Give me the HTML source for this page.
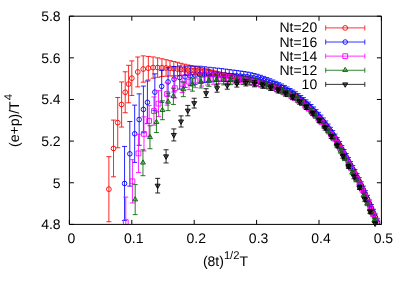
<!DOCTYPE html>
<html><head><meta charset="utf-8"><title>chart</title>
<style>
html,body{margin:0;padding:0;background:#fff;}
body{width:407px;height:284px;overflow:hidden;font-family:"Liberation Sans",sans-serif;}
svg{display:block;}
.t{filter:grayscale(1);}
.t text{font-family:"Liberation Sans",sans-serif;font-size:14px;text-rendering:geometricPrecision;}
.t tspan.s{font-size:11.2px;}
</style></head><body>
<svg width="407" height="284" viewBox="0 0 407 284">
<rect width="407" height="284" fill="#fff"/>
<g stroke-linecap="butt" stroke-linejoin="miter">
<path d="M108.87 156.65V221.71M106.37 156.65h5M106.37 221.71h5M113.52 120.09V176.81M111.02 120.09h5M111.02 176.81h5M117.73 97.49V147.77M115.23 97.49h5M115.23 147.77h5M121.61 81.91V127.05M119.11 81.91h5M119.11 127.05h5M125.21 71.78V112.74M122.71 71.78h5M122.71 112.74h5M128.6 65.31V102.8M126.1 65.31h5M126.1 102.8h5M131.8 60.91V95.47M129.3 60.91h5M129.3 95.47h5M137.76 56.99V86.88M135.26 56.99h5M135.26 86.88h5M143.23 55.87V82.2M140.73 55.87h5M140.73 82.2h5M148.33 56.44V79.97M145.83 56.44h5M145.83 79.97h5M153.12 56.95V78.22M150.62 56.95h5M150.62 78.22h5M157.65 57.88V77.29M155.15 57.88h5M155.15 77.29h5M161.95 58.77V76.61M159.45 58.77h5M159.45 76.61h5M166.07 59.7V76.2M163.57 59.7h5M163.57 76.2h5M170.02 60.65V76.01M167.52 60.65h5M167.52 76.01h5M173.82 61.52V75.88M171.32 61.52h5M171.32 75.88h5M177.48 62.32V75.81M174.98 62.32h5M174.98 75.81h5M181.02 63.32V75.55M178.52 63.32h5M178.52 75.55h5M184.46 64.2V75.35M181.96 64.2h5M181.96 75.35h5M187.8 64.96V75.18M185.3 64.96h5M185.3 75.18h5M191.04 65.62V75.03M188.54 65.62h5M188.54 75.03h5M194.2 66.22V74.92M191.7 66.22h5M191.7 74.92h5M197.28 66.82V74.89M194.78 66.82h5M194.78 74.89h5M200.29 67.45V74.96M197.79 67.45h5M197.79 74.96h5M203.23 68.11V75.12M200.73 68.11h5M200.73 75.12h5M206.11 68.78V75.35M203.61 68.78h5M203.61 75.35h5M208.93 69.49V75.65M206.43 69.49h5M206.43 75.65h5M211.69 70.23V76.04M209.19 70.23h5M209.19 76.04h5M214.4 70.92V76.4M211.9 70.92h5M211.9 76.4h5M217.07 71.54V76.71M214.57 71.54h5M214.57 76.71h5M219.68 72.11V77.01M217.18 72.11h5M217.18 77.01h5M222.25 72.65V77.29M219.75 72.65h5M219.75 77.29h5M224.77 73.14V77.56M222.27 73.14h5M222.27 77.56h5M227.26 73.6V77.8M224.76 73.6h5M224.76 77.8h5M229.71 74.04V78.05M227.21 74.04h5M227.21 78.05h5M232.12 74.48V78.3M229.62 74.48h5M229.62 78.3h5M234.49 74.9V78.56M231.99 74.9h5M231.99 78.56h5M236.84 75.31V78.81M234.34 75.31h5M234.34 78.81h5M239.15 75.72V79.07M236.65 75.72h5M236.65 79.07h5M241.42 76.13V79.34M238.92 76.13h5M238.92 79.34h5M243.67 76.56V79.65M241.17 76.56h5M241.17 79.65h5M245.89 77.01V79.98M243.39 77.01h5M243.39 79.98h5M248.09 77.51V80.37M245.59 77.51h5M245.59 80.37h5M250.25 78.04V80.79M247.75 78.04h5M247.75 80.79h5M252.39 78.59V81.24M249.89 78.59h5M249.89 81.24h5M254.51 79.15V81.71M252.01 79.15h5M252.01 81.71h5M256.6 79.7V82.17M254.1 79.7h5M254.1 82.17h5M258.67 80.24V82.63M256.17 80.24h5M256.17 82.63h5M260.71 80.8V83.1M258.21 80.8h5M258.21 83.1h5M262.74 81.38V83.61M260.24 81.38h5M260.24 83.61h5M264.74 82.01V84.17M262.24 82.01h5M262.24 84.17h5M266.73 82.69V84.78M264.23 82.69h5M264.23 84.78h5M268.69 83.39V85.41M266.19 83.39h5M266.19 85.41h5M270.63 84.09V86.06M268.13 84.09h5M268.13 86.06h5M272.56 84.82V86.73M270.06 84.82h5M270.06 86.73h5M274.47 85.57V87.42M271.97 85.57h5M271.97 87.42h5M276.36 86.33V88.13M273.86 86.33h5M273.86 88.13h5M278.23 87.11V88.86M275.73 87.11h5M275.73 88.86h5M280.09 87.92V89.62M277.59 87.92h5M277.59 89.62h5M281.93 88.76V90.41M279.43 88.76h5M279.43 90.41h5M283.75 89.65V91.26M281.25 89.65h5M281.25 91.26h5M285.56 90.59V92.15M283.06 90.59h5M283.06 92.15h5M287.35 91.53V93.06M284.85 91.53h5M284.85 93.06h5M289.13 92.47V93.95M286.63 92.47h5M286.63 93.95h5M290.9 93.4V94.85M288.4 93.4h5M288.4 94.85h5M292.65 94.36V95.77M290.15 94.36h5M290.15 95.77h5M294.39 95.39V96.77M291.89 95.39h5M291.89 96.77h5M296.11 96.5V97.84M293.61 96.5h5M293.61 97.84h5M297.82 97.67V98.99M295.32 97.67h5M295.32 98.99h5M299.52 98.89V100.18M297.02 98.89h5M297.02 100.18h5M301.21 100.14V101.39M298.71 100.14h5M298.71 101.39h5M302.88 101.42V102.65M300.38 101.42h5M300.38 102.65h5M304.54 102.76V103.96M302.04 102.76h5M302.04 103.96h5M306.19 104.13V105.31M303.69 104.13h5M303.69 105.31h5M307.83 105.56V106.71M305.33 105.56h5M305.33 106.71h5M309.46 107.04V108.17M306.96 107.04h5M306.96 108.17h5M311.07 108.57V109.67M308.57 108.57h5M308.57 109.67h5M312.68 110.13V111.21M310.18 110.13h5M310.18 111.21h5M314.28 111.74V112.8M311.78 111.74h5M311.78 112.8h5M315.86 113.4V114.44M313.36 113.4h5M313.36 114.44h5M317.44 115.1V116.12M314.94 115.1h5M314.94 116.12h5M319 116.83V117.83M316.5 116.83h5M316.5 117.83h5M320.56 118.59V119.56M318.06 118.59h5M318.06 119.56h5M322.1 120.38V121.34M319.6 120.38h5M319.6 121.34h5M323.64 122.21V123.15M321.14 122.21h5M321.14 123.15h5M325.16 124.09V125.01M322.66 124.09h5M322.66 125.01h5M326.68 126.03V126.93M324.18 126.03h5M324.18 126.93h5M328.19 128.02V128.91M325.69 128.02h5M325.69 128.91h5M329.69 130.06V130.93M327.19 130.06h5M327.19 130.93h5M331.18 132.15V133M328.68 132.15h5M328.68 133h5M332.67 134.27V135.11M330.17 134.27h5M330.17 135.11h5M334.14 136.44V137.26M331.64 136.44h5M331.64 137.26h5M335.61 138.66V139.47M333.11 138.66h5M333.11 139.47h5M337.07 140.95V141.74M334.57 140.95h5M334.57 141.74h5M338.52 143.33V144.11M336.02 143.33h5M336.02 144.11h5M339.96 145.83V146.61M337.46 145.83h5M337.46 146.61h5M341.4 148.42V149.17M338.9 148.42h5M338.9 149.17h5M342.82 151.02V151.76M340.32 151.02h5M340.32 151.76h5M344.24 153.59V154.33M341.74 153.59h5M341.74 154.33h5M345.66 156.16V156.88M343.16 156.16h5M343.16 156.88h5M347.06 158.73V159.44M344.56 158.73h5M344.56 159.44h5M348.46 161.31V162.01M345.96 161.31h5M345.96 162.01h5M349.85 163.88V164.57M347.35 163.88h5M347.35 164.57h5M351.24 166.44V167.12M348.74 166.44h5M348.74 167.12h5M352.62 168.98V169.65M350.12 168.98h5M350.12 169.65h5M353.99 171.53V172.18M351.49 171.53h5M351.49 172.18h5M355.35 174.09V174.74M352.85 174.09h5M352.85 174.74h5M356.71 176.7V177.34M354.21 176.7h5M354.21 177.34h5M358.06 179.32V179.95M355.56 179.32h5M355.56 179.95h5M359.41 181.97V182.59M356.91 181.97h5M356.91 182.59h5M360.75 184.66V185.27M358.25 184.66h5M358.25 185.27h5M362.08 187.4V188M359.58 187.4h5M359.58 188h5M363.41 190.23V190.82M360.91 190.23h5M360.91 190.82h5M364.73 193.15V193.73M362.23 193.15h5M362.23 193.73h5M366.05 196.13V196.7M363.55 196.13h5M363.55 196.7h5M367.36 199.13V199.7M364.86 199.13h5M364.86 199.7h5M368.66 202.13V202.69M366.16 202.13h5M366.16 202.69h5M369.96 205.11V205.66M367.46 205.11h5M367.46 205.66h5M371.25 208.08V208.63M368.75 208.08h5M368.75 208.63h5M372.54 211.06V211.6M370.04 211.06h5M370.04 211.6h5M373.82 214.06V214.59M371.32 214.06h5M371.32 214.59h5M375.1 217.1V217.62M372.6 217.1h5M372.6 217.62h5M376.37 220.17V220.69M373.87 220.17h5M373.87 220.69h5" fill="none" stroke="#ff0000" stroke-width="0.85"/>
<path d="M106.47 189.18a2.4 2.4 0 1 0 4.8 0a2.4 2.4 0 1 0 -4.8 0zM111.12 148.45a2.4 2.4 0 1 0 4.8 0a2.4 2.4 0 1 0 -4.8 0zM115.33 122.63a2.4 2.4 0 1 0 4.8 0a2.4 2.4 0 1 0 -4.8 0zM119.21 104.48a2.4 2.4 0 1 0 4.8 0a2.4 2.4 0 1 0 -4.8 0zM122.81 92.26a2.4 2.4 0 1 0 4.8 0a2.4 2.4 0 1 0 -4.8 0zM126.2 84.06a2.4 2.4 0 1 0 4.8 0a2.4 2.4 0 1 0 -4.8 0zM129.4 78.19a2.4 2.4 0 1 0 4.8 0a2.4 2.4 0 1 0 -4.8 0zM135.36 71.93a2.4 2.4 0 1 0 4.8 0a2.4 2.4 0 1 0 -4.8 0zM140.83 69.04a2.4 2.4 0 1 0 4.8 0a2.4 2.4 0 1 0 -4.8 0zM145.93 68.21a2.4 2.4 0 1 0 4.8 0a2.4 2.4 0 1 0 -4.8 0zM150.72 67.58a2.4 2.4 0 1 0 4.8 0a2.4 2.4 0 1 0 -4.8 0zM155.25 67.58a2.4 2.4 0 1 0 4.8 0a2.4 2.4 0 1 0 -4.8 0zM159.55 67.69a2.4 2.4 0 1 0 4.8 0a2.4 2.4 0 1 0 -4.8 0zM163.67 67.95a2.4 2.4 0 1 0 4.8 0a2.4 2.4 0 1 0 -4.8 0zM167.62 68.33a2.4 2.4 0 1 0 4.8 0a2.4 2.4 0 1 0 -4.8 0zM171.42 68.7a2.4 2.4 0 1 0 4.8 0a2.4 2.4 0 1 0 -4.8 0zM175.08 69.07a2.4 2.4 0 1 0 4.8 0a2.4 2.4 0 1 0 -4.8 0zM178.62 69.44a2.4 2.4 0 1 0 4.8 0a2.4 2.4 0 1 0 -4.8 0zM182.06 69.78a2.4 2.4 0 1 0 4.8 0a2.4 2.4 0 1 0 -4.8 0zM185.4 70.07a2.4 2.4 0 1 0 4.8 0a2.4 2.4 0 1 0 -4.8 0zM188.64 70.32a2.4 2.4 0 1 0 4.8 0a2.4 2.4 0 1 0 -4.8 0zM191.8 70.57a2.4 2.4 0 1 0 4.8 0a2.4 2.4 0 1 0 -4.8 0zM194.88 70.86a2.4 2.4 0 1 0 4.8 0a2.4 2.4 0 1 0 -4.8 0zM197.89 71.2a2.4 2.4 0 1 0 4.8 0a2.4 2.4 0 1 0 -4.8 0zM200.83 71.62a2.4 2.4 0 1 0 4.8 0a2.4 2.4 0 1 0 -4.8 0zM203.71 72.07a2.4 2.4 0 1 0 4.8 0a2.4 2.4 0 1 0 -4.8 0zM206.53 72.57a2.4 2.4 0 1 0 4.8 0a2.4 2.4 0 1 0 -4.8 0zM209.29 73.13a2.4 2.4 0 1 0 4.8 0a2.4 2.4 0 1 0 -4.8 0zM212 73.66a2.4 2.4 0 1 0 4.8 0a2.4 2.4 0 1 0 -4.8 0zM214.67 74.12a2.4 2.4 0 1 0 4.8 0a2.4 2.4 0 1 0 -4.8 0zM217.28 74.56a2.4 2.4 0 1 0 4.8 0a2.4 2.4 0 1 0 -4.8 0zM219.85 74.97a2.4 2.4 0 1 0 4.8 0a2.4 2.4 0 1 0 -4.8 0zM222.37 75.35a2.4 2.4 0 1 0 4.8 0a2.4 2.4 0 1 0 -4.8 0zM224.86 75.7a2.4 2.4 0 1 0 4.8 0a2.4 2.4 0 1 0 -4.8 0zM227.31 76.04a2.4 2.4 0 1 0 4.8 0a2.4 2.4 0 1 0 -4.8 0zM229.72 76.39a2.4 2.4 0 1 0 4.8 0a2.4 2.4 0 1 0 -4.8 0zM232.09 76.73a2.4 2.4 0 1 0 4.8 0a2.4 2.4 0 1 0 -4.8 0zM234.44 77.06a2.4 2.4 0 1 0 4.8 0a2.4 2.4 0 1 0 -4.8 0zM236.75 77.39a2.4 2.4 0 1 0 4.8 0a2.4 2.4 0 1 0 -4.8 0zM239.02 77.74a2.4 2.4 0 1 0 4.8 0a2.4 2.4 0 1 0 -4.8 0zM241.27 78.1a2.4 2.4 0 1 0 4.8 0a2.4 2.4 0 1 0 -4.8 0zM243.49 78.5a2.4 2.4 0 1 0 4.8 0a2.4 2.4 0 1 0 -4.8 0zM245.69 78.94a2.4 2.4 0 1 0 4.8 0a2.4 2.4 0 1 0 -4.8 0zM247.85 79.42a2.4 2.4 0 1 0 4.8 0a2.4 2.4 0 1 0 -4.8 0zM249.99 79.92a2.4 2.4 0 1 0 4.8 0a2.4 2.4 0 1 0 -4.8 0zM252.11 80.43a2.4 2.4 0 1 0 4.8 0a2.4 2.4 0 1 0 -4.8 0zM254.2 80.93a2.4 2.4 0 1 0 4.8 0a2.4 2.4 0 1 0 -4.8 0zM256.27 81.43a2.4 2.4 0 1 0 4.8 0a2.4 2.4 0 1 0 -4.8 0zM258.31 81.95a2.4 2.4 0 1 0 4.8 0a2.4 2.4 0 1 0 -4.8 0zM260.34 82.49a2.4 2.4 0 1 0 4.8 0a2.4 2.4 0 1 0 -4.8 0zM262.34 83.09a2.4 2.4 0 1 0 4.8 0a2.4 2.4 0 1 0 -4.8 0zM264.33 83.73a2.4 2.4 0 1 0 4.8 0a2.4 2.4 0 1 0 -4.8 0zM266.29 84.4a2.4 2.4 0 1 0 4.8 0a2.4 2.4 0 1 0 -4.8 0zM268.23 85.07a2.4 2.4 0 1 0 4.8 0a2.4 2.4 0 1 0 -4.8 0zM270.16 85.77a2.4 2.4 0 1 0 4.8 0a2.4 2.4 0 1 0 -4.8 0zM272.07 86.49a2.4 2.4 0 1 0 4.8 0a2.4 2.4 0 1 0 -4.8 0zM273.96 87.23a2.4 2.4 0 1 0 4.8 0a2.4 2.4 0 1 0 -4.8 0zM275.83 87.98a2.4 2.4 0 1 0 4.8 0a2.4 2.4 0 1 0 -4.8 0zM277.69 88.77a2.4 2.4 0 1 0 4.8 0a2.4 2.4 0 1 0 -4.8 0zM279.53 89.59a2.4 2.4 0 1 0 4.8 0a2.4 2.4 0 1 0 -4.8 0zM281.35 90.46a2.4 2.4 0 1 0 4.8 0a2.4 2.4 0 1 0 -4.8 0zM283.16 91.37a2.4 2.4 0 1 0 4.8 0a2.4 2.4 0 1 0 -4.8 0zM284.95 92.3a2.4 2.4 0 1 0 4.8 0a2.4 2.4 0 1 0 -4.8 0zM286.73 93.21a2.4 2.4 0 1 0 4.8 0a2.4 2.4 0 1 0 -4.8 0zM288.5 94.12a2.4 2.4 0 1 0 4.8 0a2.4 2.4 0 1 0 -4.8 0zM290.25 95.07a2.4 2.4 0 1 0 4.8 0a2.4 2.4 0 1 0 -4.8 0zM291.99 96.08a2.4 2.4 0 1 0 4.8 0a2.4 2.4 0 1 0 -4.8 0zM293.71 97.17a2.4 2.4 0 1 0 4.8 0a2.4 2.4 0 1 0 -4.8 0zM295.42 98.33a2.4 2.4 0 1 0 4.8 0a2.4 2.4 0 1 0 -4.8 0zM297.12 99.53a2.4 2.4 0 1 0 4.8 0a2.4 2.4 0 1 0 -4.8 0zM298.81 100.76a2.4 2.4 0 1 0 4.8 0a2.4 2.4 0 1 0 -4.8 0zM300.48 102.04a2.4 2.4 0 1 0 4.8 0a2.4 2.4 0 1 0 -4.8 0zM302.14 103.36a2.4 2.4 0 1 0 4.8 0a2.4 2.4 0 1 0 -4.8 0zM303.79 104.72a2.4 2.4 0 1 0 4.8 0a2.4 2.4 0 1 0 -4.8 0zM305.43 106.14a2.4 2.4 0 1 0 4.8 0a2.4 2.4 0 1 0 -4.8 0zM307.06 107.6a2.4 2.4 0 1 0 4.8 0a2.4 2.4 0 1 0 -4.8 0zM308.67 109.12a2.4 2.4 0 1 0 4.8 0a2.4 2.4 0 1 0 -4.8 0zM310.28 110.67a2.4 2.4 0 1 0 4.8 0a2.4 2.4 0 1 0 -4.8 0zM311.88 112.27a2.4 2.4 0 1 0 4.8 0a2.4 2.4 0 1 0 -4.8 0zM313.46 113.92a2.4 2.4 0 1 0 4.8 0a2.4 2.4 0 1 0 -4.8 0zM315.04 115.61a2.4 2.4 0 1 0 4.8 0a2.4 2.4 0 1 0 -4.8 0zM316.6 117.33a2.4 2.4 0 1 0 4.8 0a2.4 2.4 0 1 0 -4.8 0zM318.16 119.08a2.4 2.4 0 1 0 4.8 0a2.4 2.4 0 1 0 -4.8 0zM319.7 120.86a2.4 2.4 0 1 0 4.8 0a2.4 2.4 0 1 0 -4.8 0zM321.24 122.68a2.4 2.4 0 1 0 4.8 0a2.4 2.4 0 1 0 -4.8 0zM322.76 124.55a2.4 2.4 0 1 0 4.8 0a2.4 2.4 0 1 0 -4.8 0zM324.28 126.48a2.4 2.4 0 1 0 4.8 0a2.4 2.4 0 1 0 -4.8 0zM325.79 128.47a2.4 2.4 0 1 0 4.8 0a2.4 2.4 0 1 0 -4.8 0zM327.29 130.5a2.4 2.4 0 1 0 4.8 0a2.4 2.4 0 1 0 -4.8 0zM328.78 132.58a2.4 2.4 0 1 0 4.8 0a2.4 2.4 0 1 0 -4.8 0zM330.27 134.69a2.4 2.4 0 1 0 4.8 0a2.4 2.4 0 1 0 -4.8 0zM331.74 136.85a2.4 2.4 0 1 0 4.8 0a2.4 2.4 0 1 0 -4.8 0zM333.21 139.06a2.4 2.4 0 1 0 4.8 0a2.4 2.4 0 1 0 -4.8 0zM334.67 141.35a2.4 2.4 0 1 0 4.8 0a2.4 2.4 0 1 0 -4.8 0zM336.12 143.72a2.4 2.4 0 1 0 4.8 0a2.4 2.4 0 1 0 -4.8 0zM337.56 146.22a2.4 2.4 0 1 0 4.8 0a2.4 2.4 0 1 0 -4.8 0zM339 148.79a2.4 2.4 0 1 0 4.8 0a2.4 2.4 0 1 0 -4.8 0zM340.42 151.39a2.4 2.4 0 1 0 4.8 0a2.4 2.4 0 1 0 -4.8 0zM341.84 153.96a2.4 2.4 0 1 0 4.8 0a2.4 2.4 0 1 0 -4.8 0zM343.26 156.52a2.4 2.4 0 1 0 4.8 0a2.4 2.4 0 1 0 -4.8 0zM344.66 159.09a2.4 2.4 0 1 0 4.8 0a2.4 2.4 0 1 0 -4.8 0zM346.06 161.66a2.4 2.4 0 1 0 4.8 0a2.4 2.4 0 1 0 -4.8 0zM347.45 164.22a2.4 2.4 0 1 0 4.8 0a2.4 2.4 0 1 0 -4.8 0zM348.84 166.78a2.4 2.4 0 1 0 4.8 0a2.4 2.4 0 1 0 -4.8 0zM350.22 169.31a2.4 2.4 0 1 0 4.8 0a2.4 2.4 0 1 0 -4.8 0zM351.59 171.85a2.4 2.4 0 1 0 4.8 0a2.4 2.4 0 1 0 -4.8 0zM352.95 174.42a2.4 2.4 0 1 0 4.8 0a2.4 2.4 0 1 0 -4.8 0zM354.31 177.02a2.4 2.4 0 1 0 4.8 0a2.4 2.4 0 1 0 -4.8 0zM355.66 179.64a2.4 2.4 0 1 0 4.8 0a2.4 2.4 0 1 0 -4.8 0zM357.01 182.28a2.4 2.4 0 1 0 4.8 0a2.4 2.4 0 1 0 -4.8 0zM358.35 184.96a2.4 2.4 0 1 0 4.8 0a2.4 2.4 0 1 0 -4.8 0zM359.68 187.7a2.4 2.4 0 1 0 4.8 0a2.4 2.4 0 1 0 -4.8 0zM361.01 190.52a2.4 2.4 0 1 0 4.8 0a2.4 2.4 0 1 0 -4.8 0zM362.33 193.44a2.4 2.4 0 1 0 4.8 0a2.4 2.4 0 1 0 -4.8 0zM363.65 196.41a2.4 2.4 0 1 0 4.8 0a2.4 2.4 0 1 0 -4.8 0zM364.96 199.42a2.4 2.4 0 1 0 4.8 0a2.4 2.4 0 1 0 -4.8 0zM366.26 202.41a2.4 2.4 0 1 0 4.8 0a2.4 2.4 0 1 0 -4.8 0zM367.56 205.39a2.4 2.4 0 1 0 4.8 0a2.4 2.4 0 1 0 -4.8 0zM368.85 208.35a2.4 2.4 0 1 0 4.8 0a2.4 2.4 0 1 0 -4.8 0zM370.14 211.33a2.4 2.4 0 1 0 4.8 0a2.4 2.4 0 1 0 -4.8 0zM371.42 214.33a2.4 2.4 0 1 0 4.8 0a2.4 2.4 0 1 0 -4.8 0zM372.7 217.36a2.4 2.4 0 1 0 4.8 0a2.4 2.4 0 1 0 -4.8 0zM373.97 220.43a2.4 2.4 0 1 0 4.8 0a2.4 2.4 0 1 0 -4.8 0z" fill="none" stroke="#ff0000" stroke-width="0.9"/>

<path d="M124.55 146.43V220.55M122.05 146.43h5M122.05 220.55h5M129.82 121.52V186.14M127.32 121.52h5M127.32 186.14h5M134.66 105.13V162.4M132.16 105.13h5M132.16 162.4h5M139.17 93.86V145.29M136.67 93.86h5M136.67 145.29h5M143.4 86.08V132.74M140.9 86.08h5M140.9 132.74h5M147.4 80.96V123.68M144.9 80.96h5M144.9 123.68h5M154.84 73.85V110.37M152.34 73.85h5M152.34 110.37h5M161.69 70.46V102.36M159.19 70.46h5M159.19 102.36h5M168.06 67.77V96.09M165.56 67.77h5M165.56 96.09h5M174.05 66.5V91.96M171.55 66.5h5M171.55 91.96h5M179.71 66.01V89.13M177.21 66.01h5M177.21 89.13h5M185.09 66.15V87.32M182.59 66.15h5M182.59 87.32h5M190.24 66.03V85.56M187.74 66.03h5M187.74 85.56h5M195.17 66.22V84.35M192.67 66.22h5M192.67 84.35h5M199.92 66.21V83.12M197.42 66.21h5M197.42 83.12h5M204.5 66.74V82.59M202 66.74h5M202 82.59h5M208.93 67.25V82.16M206.43 67.25h5M206.43 82.16h5M213.22 67.72V81.8M210.72 67.72h5M210.72 81.8h5M217.39 68.16V81.5M214.89 68.16h5M214.89 81.5h5M221.45 68.6V81.26M218.95 68.6h5M218.95 81.26h5M225.4 69.08V81.14M222.9 69.08h5M222.9 81.14h5M229.25 69.59V81.09M226.75 69.59h5M226.75 81.09h5M233.01 70.07V81.07M230.51 70.07h5M230.51 81.07h5M236.69 70.53V81.08M234.19 70.53h5M234.19 81.08h5M240.29 71.01V81.13M237.79 71.01h5M237.79 81.13h5M243.81 71.51V81.24M241.31 71.51h5M241.31 81.24h5M247.27 72.07V81.43M244.77 72.07h5M244.77 81.43h5M250.66 72.74V81.77M248.16 72.74h5M248.16 81.77h5M253.98 73.49V82.21M251.48 73.49h5M251.48 82.21h5M257.25 74.31V82.74M254.75 74.31h5M254.75 82.74h5M260.46 75.3V83.46M257.96 75.3h5M257.96 83.46h5M263.62 76.39V84.29M261.12 76.39h5M261.12 84.29h5M266.73 77.55V85.21M264.23 77.55h5M264.23 85.21h5M269.79 78.76V86.2M267.29 78.76h5M267.29 86.2h5M272.8 80.03V87.25M270.3 80.03h5M270.3 87.25h5M275.77 81.34V88.36M273.27 81.34h5M273.27 88.36h5M278.7 82.68V89.51M276.2 82.68h5M276.2 89.51h5M281.58 84.01V90.81M279.08 84.01h5M279.08 90.81h5M284.43 85.46V92.26M281.93 85.46h5M281.93 92.26h5M287.24 86.98V93.78M284.74 86.98h5M284.74 93.78h5M290.02 88.49V95.29M287.52 88.49h5M287.52 95.29h5M292.76 90.03V96.83M290.26 90.03h5M290.26 96.83h5M295.47 91.73V98.53M292.97 91.73h5M292.97 98.53h5M298.14 93.6V100.4M295.64 93.6h5M295.64 100.4h5M300.79 95.57V102.37M298.29 95.57h5M298.29 102.37h5M303.4 97.63V104.43M300.9 97.63h5M300.9 104.43h5M305.99 99.81V106.61M303.49 99.81h5M303.49 106.61h5M308.54 102.09V108.89M306.04 102.09h5M306.04 108.89h5M311.07 104.5V111.3M308.57 104.5h5M308.57 111.3h5M313.58 107V113.8M311.08 107h5M311.08 113.8h5M316.06 109.62V116.42M313.56 109.62h5M313.56 116.42h5M318.51 112.33V119.13M316.01 112.33h5M316.01 119.13h5M320.94 115.12V121.92M318.44 115.12h5M318.44 121.92h5M323.35 117.99V124.79M320.85 117.99h5M320.85 124.79h5M325.73 120.97V127.77M323.23 120.97h5M323.23 127.77h5M328.1 124.09V130.89M325.6 124.09h5M325.6 130.89h5M330.44 127.32V134.12M327.94 127.32h5M327.94 134.12h5M332.76 130.65V137.45M330.26 130.65h5M330.26 137.45h5M335.06 134.07V140.87M332.56 134.07h5M332.56 140.87h5M337.34 137.65V144.45M334.84 137.65h5M334.84 144.45h5M339.6 141.46V148.26M337.1 141.46h5M337.1 148.26h5M341.84 145.48V152.28M339.34 145.48h5M339.34 152.28h5M344.07 149.51V156.31M341.57 149.51h5M341.57 156.31h5M346.27 153.53V160.33M343.77 153.53h5M343.77 160.33h5M348.46 157.56V164.36M345.96 157.56h5M345.96 164.36h5M350.63 161.57V168.37M348.13 161.57h5M348.13 168.37h5M352.79 165.53V172.33M350.29 165.53h5M350.29 172.33h5M354.93 169.49V176.29M352.43 169.49h5M352.43 176.29h5M357.05 173.53V180.33M354.55 173.53h5M354.55 180.33h5M359.16 177.61V184.41M356.66 177.61h5M356.66 184.41h5M361.25 181.78V188.58M358.75 181.78h5M358.75 188.58h5M363.33 186.12V192.92M360.83 186.12h5M360.83 192.92h5M365.39 190.68V197.48M362.89 190.68h5M362.89 197.48h5M367.44 195.36V202.16M364.94 195.36h5M364.94 202.16h5M369.47 200.01V206.81M366.97 200.01h5M366.97 206.81h5M371.49 204.65V211.45M368.99 204.65h5M368.99 211.45h5M373.5 209.31V216.11M371 209.31h5M371 216.11h5M375.49 214.03V220.83M372.99 214.03h5M372.99 220.83h5M377.48 218.83V224.4M374.98 218.83h5" fill="none" stroke="#0000ff" stroke-width="0.85"/>
<path d="M122.25 183.49a2.3 2.3 0 1 0 4.6 0a2.3 2.3 0 1 0 -4.6 0zM127.52 153.83a2.3 2.3 0 1 0 4.6 0a2.3 2.3 0 1 0 -4.6 0zM132.36 133.77a2.3 2.3 0 1 0 4.6 0a2.3 2.3 0 1 0 -4.6 0zM136.87 119.58a2.3 2.3 0 1 0 4.6 0a2.3 2.3 0 1 0 -4.6 0zM141.1 109.41a2.3 2.3 0 1 0 4.6 0a2.3 2.3 0 1 0 -4.6 0zM145.1 102.32a2.3 2.3 0 1 0 4.6 0a2.3 2.3 0 1 0 -4.6 0zM152.54 92.11a2.3 2.3 0 1 0 4.6 0a2.3 2.3 0 1 0 -4.6 0zM159.39 86.41a2.3 2.3 0 1 0 4.6 0a2.3 2.3 0 1 0 -4.6 0zM165.76 81.93a2.3 2.3 0 1 0 4.6 0a2.3 2.3 0 1 0 -4.6 0zM171.75 79.23a2.3 2.3 0 1 0 4.6 0a2.3 2.3 0 1 0 -4.6 0zM177.41 77.57a2.3 2.3 0 1 0 4.6 0a2.3 2.3 0 1 0 -4.6 0zM182.79 76.74a2.3 2.3 0 1 0 4.6 0a2.3 2.3 0 1 0 -4.6 0zM187.94 75.8a2.3 2.3 0 1 0 4.6 0a2.3 2.3 0 1 0 -4.6 0zM192.87 75.28a2.3 2.3 0 1 0 4.6 0a2.3 2.3 0 1 0 -4.6 0zM197.62 74.67a2.3 2.3 0 1 0 4.6 0a2.3 2.3 0 1 0 -4.6 0zM202.2 74.67a2.3 2.3 0 1 0 4.6 0a2.3 2.3 0 1 0 -4.6 0zM206.63 74.71a2.3 2.3 0 1 0 4.6 0a2.3 2.3 0 1 0 -4.6 0zM210.92 74.76a2.3 2.3 0 1 0 4.6 0a2.3 2.3 0 1 0 -4.6 0zM215.09 74.83a2.3 2.3 0 1 0 4.6 0a2.3 2.3 0 1 0 -4.6 0zM219.15 74.93a2.3 2.3 0 1 0 4.6 0a2.3 2.3 0 1 0 -4.6 0zM223.1 75.11a2.3 2.3 0 1 0 4.6 0a2.3 2.3 0 1 0 -4.6 0zM226.95 75.34a2.3 2.3 0 1 0 4.6 0a2.3 2.3 0 1 0 -4.6 0zM230.71 75.57a2.3 2.3 0 1 0 4.6 0a2.3 2.3 0 1 0 -4.6 0zM234.39 75.8a2.3 2.3 0 1 0 4.6 0a2.3 2.3 0 1 0 -4.6 0zM237.99 76.07a2.3 2.3 0 1 0 4.6 0a2.3 2.3 0 1 0 -4.6 0zM241.51 76.37a2.3 2.3 0 1 0 4.6 0a2.3 2.3 0 1 0 -4.6 0zM244.97 76.75a2.3 2.3 0 1 0 4.6 0a2.3 2.3 0 1 0 -4.6 0zM248.36 77.25a2.3 2.3 0 1 0 4.6 0a2.3 2.3 0 1 0 -4.6 0zM251.68 77.85a2.3 2.3 0 1 0 4.6 0a2.3 2.3 0 1 0 -4.6 0zM254.95 78.52a2.3 2.3 0 1 0 4.6 0a2.3 2.3 0 1 0 -4.6 0zM258.16 79.38a2.3 2.3 0 1 0 4.6 0a2.3 2.3 0 1 0 -4.6 0zM261.32 80.34a2.3 2.3 0 1 0 4.6 0a2.3 2.3 0 1 0 -4.6 0zM264.43 81.38a2.3 2.3 0 1 0 4.6 0a2.3 2.3 0 1 0 -4.6 0zM267.49 82.48a2.3 2.3 0 1 0 4.6 0a2.3 2.3 0 1 0 -4.6 0zM270.5 83.64a2.3 2.3 0 1 0 4.6 0a2.3 2.3 0 1 0 -4.6 0zM273.47 84.85a2.3 2.3 0 1 0 4.6 0a2.3 2.3 0 1 0 -4.6 0zM276.4 86.09a2.3 2.3 0 1 0 4.6 0a2.3 2.3 0 1 0 -4.6 0zM279.28 87.41a2.3 2.3 0 1 0 4.6 0a2.3 2.3 0 1 0 -4.6 0zM282.13 88.86a2.3 2.3 0 1 0 4.6 0a2.3 2.3 0 1 0 -4.6 0zM284.94 90.38a2.3 2.3 0 1 0 4.6 0a2.3 2.3 0 1 0 -4.6 0zM287.72 91.89a2.3 2.3 0 1 0 4.6 0a2.3 2.3 0 1 0 -4.6 0zM290.46 93.43a2.3 2.3 0 1 0 4.6 0a2.3 2.3 0 1 0 -4.6 0zM293.17 95.13a2.3 2.3 0 1 0 4.6 0a2.3 2.3 0 1 0 -4.6 0zM295.84 97a2.3 2.3 0 1 0 4.6 0a2.3 2.3 0 1 0 -4.6 0zM298.49 98.97a2.3 2.3 0 1 0 4.6 0a2.3 2.3 0 1 0 -4.6 0zM301.1 101.03a2.3 2.3 0 1 0 4.6 0a2.3 2.3 0 1 0 -4.6 0zM303.69 103.21a2.3 2.3 0 1 0 4.6 0a2.3 2.3 0 1 0 -4.6 0zM306.24 105.49a2.3 2.3 0 1 0 4.6 0a2.3 2.3 0 1 0 -4.6 0zM308.77 107.9a2.3 2.3 0 1 0 4.6 0a2.3 2.3 0 1 0 -4.6 0zM311.28 110.4a2.3 2.3 0 1 0 4.6 0a2.3 2.3 0 1 0 -4.6 0zM313.76 113.02a2.3 2.3 0 1 0 4.6 0a2.3 2.3 0 1 0 -4.6 0zM316.21 115.73a2.3 2.3 0 1 0 4.6 0a2.3 2.3 0 1 0 -4.6 0zM318.64 118.52a2.3 2.3 0 1 0 4.6 0a2.3 2.3 0 1 0 -4.6 0zM321.05 121.39a2.3 2.3 0 1 0 4.6 0a2.3 2.3 0 1 0 -4.6 0zM323.43 124.37a2.3 2.3 0 1 0 4.6 0a2.3 2.3 0 1 0 -4.6 0zM325.8 127.49a2.3 2.3 0 1 0 4.6 0a2.3 2.3 0 1 0 -4.6 0zM328.14 130.72a2.3 2.3 0 1 0 4.6 0a2.3 2.3 0 1 0 -4.6 0zM330.46 134.05a2.3 2.3 0 1 0 4.6 0a2.3 2.3 0 1 0 -4.6 0zM332.76 137.47a2.3 2.3 0 1 0 4.6 0a2.3 2.3 0 1 0 -4.6 0zM335.04 141.05a2.3 2.3 0 1 0 4.6 0a2.3 2.3 0 1 0 -4.6 0zM337.3 144.86a2.3 2.3 0 1 0 4.6 0a2.3 2.3 0 1 0 -4.6 0zM339.54 148.88a2.3 2.3 0 1 0 4.6 0a2.3 2.3 0 1 0 -4.6 0zM341.77 152.91a2.3 2.3 0 1 0 4.6 0a2.3 2.3 0 1 0 -4.6 0zM343.97 156.93a2.3 2.3 0 1 0 4.6 0a2.3 2.3 0 1 0 -4.6 0zM346.16 160.96a2.3 2.3 0 1 0 4.6 0a2.3 2.3 0 1 0 -4.6 0zM348.33 164.97a2.3 2.3 0 1 0 4.6 0a2.3 2.3 0 1 0 -4.6 0zM350.49 168.93a2.3 2.3 0 1 0 4.6 0a2.3 2.3 0 1 0 -4.6 0zM352.63 172.89a2.3 2.3 0 1 0 4.6 0a2.3 2.3 0 1 0 -4.6 0zM354.75 176.93a2.3 2.3 0 1 0 4.6 0a2.3 2.3 0 1 0 -4.6 0zM356.86 181.01a2.3 2.3 0 1 0 4.6 0a2.3 2.3 0 1 0 -4.6 0zM358.95 185.18a2.3 2.3 0 1 0 4.6 0a2.3 2.3 0 1 0 -4.6 0zM361.03 189.52a2.3 2.3 0 1 0 4.6 0a2.3 2.3 0 1 0 -4.6 0zM363.09 194.08a2.3 2.3 0 1 0 4.6 0a2.3 2.3 0 1 0 -4.6 0zM365.14 198.76a2.3 2.3 0 1 0 4.6 0a2.3 2.3 0 1 0 -4.6 0zM367.17 203.41a2.3 2.3 0 1 0 4.6 0a2.3 2.3 0 1 0 -4.6 0zM369.19 208.05a2.3 2.3 0 1 0 4.6 0a2.3 2.3 0 1 0 -4.6 0zM371.2 212.71a2.3 2.3 0 1 0 4.6 0a2.3 2.3 0 1 0 -4.6 0zM373.19 217.43a2.3 2.3 0 1 0 4.6 0a2.3 2.3 0 1 0 -4.6 0zM375.18 222.23a2.3 2.3 0 1 0 4.6 0a2.3 2.3 0 1 0 -4.6 0z" fill="none" stroke="#0000ff" stroke-width="0.9"/>

<path d="M125.78 197.13V224.4M123.28 197.13h5M132.43 159.66V202.96M129.93 159.66h5M129.93 202.96h5M138.45 134.29V172.49M135.95 134.29h5M135.95 172.49h5M143.98 116.81V150.98M141.48 116.81h5M141.48 150.98h5M149.13 105.42V136.32M146.63 105.42h5M146.63 136.32h5M153.97 96.92V125.13M151.47 96.92h5M151.47 125.13h5M158.54 90.63V116.58M156.04 90.63h5M156.04 116.58h5M167.05 82.82V105.18M164.55 82.82h5M164.55 105.18h5M174.88 78.34V97.99M172.38 78.34h5M172.38 97.99h5M182.16 75.05V92.57M179.66 75.05h5M179.66 92.57h5M189 73.83V89.64M186.5 73.83h5M186.5 89.64h5M195.47 73.28V87.68M192.97 73.28h5M192.97 87.68h5M201.62 72.91V86.14M199.12 72.91h5M199.12 86.14h5M207.5 72.85V85.08M205 72.85h5M205 85.08h5M213.14 72.89V84.25M210.64 72.89h5M210.64 84.25h5M218.56 73.09V83.71M216.06 73.09h5M216.06 83.71h5M223.8 73.64V83.61M221.3 73.64h5M221.3 83.61h5M228.86 74.55V83.76M226.36 74.55h5M226.36 83.76h5M233.77 75.36V83.91M231.27 75.36h5M231.27 83.91h5M238.54 76.11V84.07M236.04 76.11h5M236.04 84.07h5M243.17 76.88V84.33M240.67 76.88h5M240.67 84.33h5M247.69 77.77V84.76M245.19 77.77h5M245.19 84.76h5M252.09 78.85V85.43M249.59 78.85h5M249.59 85.43h5M256.39 79.98V86.19M253.89 79.98h5M253.89 86.19h5M260.59 81.1V86.97M258.09 81.1h5M258.09 86.97h5M264.7 82.35V87.91M262.2 82.35h5M262.2 87.91h5M268.73 83.77V89.06M266.23 83.77h5M266.23 89.06h5M272.68 85.23V90.27M270.18 85.23h5M270.18 90.27h5M276.55 86.78V91.58M274.05 86.78h5M274.05 91.58h5M280.35 88.44V93.03M277.85 88.44h5M277.85 93.03h5M284.08 90.26V94.65M281.58 90.26h5M281.58 94.65h5M287.75 92.2V96.41M285.25 92.2h5M285.25 96.41h5M291.36 94.15V98.19M288.86 94.15h5M288.86 98.19h5M294.92 96.28V100.16M292.42 96.28h5M292.42 100.16h5M298.41 98.73V102.46M295.91 98.73h5M295.91 102.46h5M301.86 101.34V104.93M299.36 101.34h5M299.36 104.93h5M305.25 104.11V107.57M302.75 104.11h5M302.75 107.57h5M308.6 107.08V110.42M306.1 107.08h5M306.1 110.42h5M311.89 110.27V113.5M309.39 110.27h5M309.39 113.5h5M315.15 113.65V116.77M312.65 113.65h5M312.65 116.77h5M318.36 117.2V120.22M315.86 117.2h5M315.86 120.22h5M321.53 120.85V123.78M319.03 120.85h5M319.03 123.78h5M324.67 124.65V127.48M322.17 124.65h5M322.17 127.48h5M327.76 128.64V131.38M325.26 128.64h5M325.26 131.38h5M330.82 132.82V135.49M328.32 132.82h5M328.32 135.49h5M333.84 137.19V139.78M331.34 137.19h5M331.34 139.78h5M336.83 141.77V144.29M334.33 141.77h5M334.33 144.29h5M339.78 146.71V149.16M337.28 146.71h5M337.28 149.16h5M342.71 151.95V154.33M340.21 151.95h5M340.21 154.33h5M345.6 157.09V159.41M343.1 157.09h5M343.1 159.41h5M348.46 162.17V164.43M345.96 162.17h5M345.96 164.43h5M351.29 167.3V169.51M348.79 167.3h5M348.79 169.51h5M354.1 172.47V174.62M351.6 172.47h5M351.6 174.62h5M356.88 177.78V179.87M354.38 177.78h5M354.38 179.87h5M359.63 183.25V185.3M357.13 183.25h5M357.13 185.3h5M362.35 188.92V190.91M359.85 188.92h5M359.85 190.91h5M365.05 194.87V196.82M362.55 194.87h5M362.55 196.82h5M367.73 201.03V202.93M365.23 201.03h5M365.23 202.93h5M370.38 207.15V209.01M367.88 207.15h5M367.88 209.01h5M373.01 213.27V215.09M370.51 213.27h5M370.51 215.09h5M375.62 219.5V221.28M373.12 219.5h5M373.12 221.28h5" fill="none" stroke="#ff00ff" stroke-width="0.85"/>
<path d="M123.38 219.73h4.8v4.8h-4.8zM130.03 178.91h4.8v4.8h-4.8zM136.05 150.99h4.8v4.8h-4.8zM141.58 131.49h4.8v4.8h-4.8zM146.73 118.47h4.8v4.8h-4.8zM151.57 108.63h4.8v4.8h-4.8zM156.14 101.2h4.8v4.8h-4.8zM164.65 91.6h4.8v4.8h-4.8zM172.48 85.76h4.8v4.8h-4.8zM179.76 81.41h4.8v4.8h-4.8zM186.6 79.33h4.8v4.8h-4.8zM193.07 78.08h4.8v4.8h-4.8zM199.22 77.13h4.8v4.8h-4.8zM205.1 76.57h4.8v4.8h-4.8zM210.74 76.17h4.8v4.8h-4.8zM216.16 76h4.8v4.8h-4.8zM221.4 76.22h4.8v4.8h-4.8zM226.46 76.75h4.8v4.8h-4.8zM231.37 77.24h4.8v4.8h-4.8zM236.14 77.69h4.8v4.8h-4.8zM240.77 78.21h4.8v4.8h-4.8zM245.29 78.86h4.8v4.8h-4.8zM249.69 79.74h4.8v4.8h-4.8zM253.99 80.68h4.8v4.8h-4.8zM258.19 81.63h4.8v4.8h-4.8zM262.3 82.73h4.8v4.8h-4.8zM266.33 84.01h4.8v4.8h-4.8zM270.28 85.35h4.8v4.8h-4.8zM274.15 86.78h4.8v4.8h-4.8zM277.95 88.34h4.8v4.8h-4.8zM281.68 90.06h4.8v4.8h-4.8zM285.35 91.91h4.8v4.8h-4.8zM288.96 93.77h4.8v4.8h-4.8zM292.52 95.82h4.8v4.8h-4.8zM296.01 98.2h4.8v4.8h-4.8zM299.46 100.74h4.8v4.8h-4.8zM302.85 103.44h4.8v4.8h-4.8zM306.2 106.35h4.8v4.8h-4.8zM309.49 109.49h4.8v4.8h-4.8zM312.75 112.81h4.8v4.8h-4.8zM315.96 116.31h4.8v4.8h-4.8zM319.13 119.91h4.8v4.8h-4.8zM322.27 123.66h4.8v4.8h-4.8zM325.36 127.61h4.8v4.8h-4.8zM328.42 131.76h4.8v4.8h-4.8zM331.44 136.08h4.8v4.8h-4.8zM334.43 140.63h4.8v4.8h-4.8zM337.38 145.54h4.8v4.8h-4.8zM340.31 150.74h4.8v4.8h-4.8zM343.2 155.85h4.8v4.8h-4.8zM346.06 160.9h4.8v4.8h-4.8zM348.89 166.01h4.8v4.8h-4.8zM351.7 171.15h4.8v4.8h-4.8zM354.48 176.43h4.8v4.8h-4.8zM357.23 181.88h4.8v4.8h-4.8zM359.95 187.51h4.8v4.8h-4.8zM362.65 193.45h4.8v4.8h-4.8zM365.33 199.58h4.8v4.8h-4.8zM367.98 205.68h4.8v4.8h-4.8zM370.61 211.78h4.8v4.8h-4.8zM373.22 217.99h4.8v4.8h-4.8z" fill="none" stroke="#ff00ff" stroke-width="0.9"/>

<path d="M135.18 184.62V214.64M132.68 184.62h5M132.68 214.64h5M142.94 149.83V175.7M140.44 149.83h5M140.44 175.7h5M149.96 125.81V148.72M147.46 125.81h5M147.46 148.72h5M156.41 111.9V132.56M153.91 111.9h5M153.91 132.56h5M162.42 100.8V119.71M159.92 100.8h5M159.92 119.71h5M168.06 93.16V110.63M165.56 93.16h5M165.56 110.63h5M173.4 88.16V104.45M170.9 88.16h5M170.9 104.45h5M183.33 82.22V96.65M180.83 82.22h5M180.83 96.65h5M192.45 78.13V91.15M189.95 78.13h5M189.95 91.15h5M200.95 76.1V88.01M198.45 76.1h5M198.45 88.01h5M208.93 75.3V86.31M206.43 75.3h5M206.43 86.31h5M216.48 74.99V85.25M213.98 74.99h5M213.98 85.25h5M223.66 75.26V84.89M221.16 75.26h5M221.16 84.89h5M230.52 75.6V84.68M228.02 75.6h5M228.02 84.68h5M237.09 75.95V84.56M234.59 75.95h5M234.59 84.56h5M243.43 76.32V84.52M240.93 76.32h5M240.93 84.52h5M249.53 77V84.82M247.03 77h5M247.03 84.82h5M255.44 78.31V85.81M252.94 78.31h5M252.94 85.81h5M261.17 79.69V86.89M258.67 79.69h5M258.67 86.89h5M266.73 81.39V88.32M264.23 81.39h5M264.23 88.32h5M272.13 83.28V89.96M269.63 83.28h5M269.63 89.96h5M277.4 85.35V91.81M274.9 85.35h5M274.9 91.81h5M282.54 87.7V93.96M280.04 87.7h5M280.04 93.96h5M287.55 90.3V96.37M285.05 90.3h5M285.05 96.37h5M292.46 93.08V98.96M289.96 93.08h5M289.96 98.96h5M297.25 96.33V102.05M294.75 96.33h5M294.75 102.05h5M301.95 100.01V105.57M299.45 100.01h5M299.45 105.57h5M306.56 103.98V109.4M304.06 103.98h5M304.06 109.4h5M311.07 108.36V113.65M308.57 108.36h5M308.57 113.65h5M315.51 113.07V118.23M313.01 113.07h5M313.01 118.23h5M319.87 118.09V123.13M317.37 118.09h5M317.37 123.13h5M324.15 123.34V128.27M321.65 123.34h5M321.65 128.27h5M328.36 128.99V133.81M325.86 128.99h5M325.86 133.81h5M332.5 135.04V139.76M330 135.04h5M330 139.76h5M336.58 141.51V146.14M334.08 141.51h5M334.08 146.14h5M340.6 148.61V153.15M338.1 148.61h5M338.1 153.15h5M344.56 155.99V160.44M342.06 155.99h5M342.06 160.44h5M348.46 163.14V167.5M345.96 163.14h5M345.96 167.5h5M352.31 170.33V174.62M349.81 170.33h5M349.81 174.62h5M356.11 177.64V181.85M353.61 177.64h5M353.61 181.85h5M359.86 185.3V189.44M357.36 185.3h5M357.36 189.44h5M363.56 193.28V197.35M361.06 193.28h5M361.06 197.35h5M367.21 201.64V205.65M364.71 201.64h5M364.71 205.65h5M370.82 210.03V213.97M368.32 210.03h5M368.32 213.97h5M374.39 218.47V222.35M371.89 218.47h5M371.89 222.35h5" fill="none" stroke="#006400" stroke-width="0.85"/>
<path d="M135.18 196.73l2.5 4.2h-5zM142.94 159.87l2.5 4.2h-5zM149.96 134.36l2.5 4.2h-5zM156.41 119.33l2.5 4.2h-5zM162.42 107.35l2.5 4.2h-5zM168.06 98.99l2.5 4.2h-5zM173.4 93.41l2.5 4.2h-5zM183.33 86.53l2.5 4.2h-5zM192.45 81.74l2.5 4.2h-5zM200.95 79.15l2.5 4.2h-5zM208.93 77.9l2.5 4.2h-5zM216.48 77.22l2.5 4.2h-5zM223.66 77.18l2.5 4.2h-5zM230.52 77.24l2.5 4.2h-5zM237.09 77.36l2.5 4.2h-5zM243.43 77.52l2.5 4.2h-5zM249.53 78.01l2.5 4.2h-5zM255.44 79.16l2.5 4.2h-5zM261.17 80.39l2.5 4.2h-5zM266.73 81.95l2.5 4.2h-5zM272.13 83.72l2.5 4.2h-5zM277.4 85.68l2.5 4.2h-5zM282.54 87.93l2.5 4.2h-5zM287.55 90.44l2.5 4.2h-5zM292.46 93.12l2.5 4.2h-5zM297.25 96.29l2.5 4.2h-5zM301.95 99.89l2.5 4.2h-5zM306.56 103.79l2.5 4.2h-5zM311.07 108.1l2.5 4.2h-5zM315.51 112.75l2.5 4.2h-5zM319.87 117.71l2.5 4.2h-5zM324.15 122.91l2.5 4.2h-5zM328.36 128.5l2.5 4.2h-5zM332.5 134.5l2.5 4.2h-5zM336.58 140.93l2.5 4.2h-5zM340.6 147.98l2.5 4.2h-5zM344.56 155.32l2.5 4.2h-5zM348.46 162.42l2.5 4.2h-5zM352.31 169.57l2.5 4.2h-5zM356.11 176.84l2.5 4.2h-5zM359.86 184.47l2.5 4.2h-5zM363.56 192.42l2.5 4.2h-5zM367.21 200.74l2.5 4.2h-5zM370.82 209.1l2.5 4.2h-5zM374.39 217.51l2.5 4.2h-5z" fill="#006400" fill-opacity="0.3" stroke="#006400" stroke-width="0.9"/>

<path d="M157.65 178.37V192.99M155.15 178.37h5M155.15 192.99h5M166.07 149.78V162.94M163.57 149.78h5M163.57 162.94h5M173.82 128.91V140.95M171.32 128.91h5M171.32 140.95h5M181.02 115.9V127.04M178.52 115.9h5M178.52 127.04h5M187.8 105.41V115.81M185.3 105.41h5M185.3 115.81h5M194.2 98.26V108.05M191.7 98.26h5M191.7 108.05h5M206.11 88.73V97.54M203.61 88.73h5M203.61 97.54h5M217.07 84.14V92.2M214.57 84.14h5M214.57 92.2h5M227.26 81.74V89.21M224.76 81.74h5M224.76 89.21h5M236.84 80.11V87.08M234.34 80.11h5M234.34 87.08h5M245.89 79.38V85.94M243.39 79.38h5M243.39 85.94h5M254.51 80.62V86.82M252.01 80.62h5M252.01 86.82h5M262.74 82.38V88.28M260.24 82.38h5M260.24 88.28h5M270.63 84.78V90.42M268.13 84.78h5M268.13 90.42h5M278.23 87.53V92.93M275.73 87.53h5M275.73 92.93h5M285.56 90.94V96.13M283.06 90.94h5M283.06 96.13h5M292.65 94.67V99.66M290.15 94.67h5M290.15 99.66h5M299.52 99.38V104.21M297.02 99.38h5M297.02 104.21h5M306.19 104.8V109.47M303.69 104.8h5M303.69 109.47h5M312.68 111.07V115.59M310.18 111.07h5M310.18 115.59h5M319 118.12V122.51M316.5 118.12h5M316.5 122.51h5M325.16 125.79V130.07M322.66 125.79h5M322.66 130.07h5M331.18 134.28V138.44M328.68 134.28h5M328.68 138.44h5M337.07 143.65V147.71M334.57 143.65h5M334.57 147.71h5M342.82 154.21V158.16M340.32 154.21h5M340.32 158.16h5M348.46 164.56V168.43M345.96 164.56h5M345.96 168.43h5M353.99 174.94V178.72M351.49 174.94h5M351.49 178.72h5M359.41 185.71V189.4M356.91 185.71h5M356.91 189.4h5M364.73 197.63V201.25M362.23 197.63h5M362.23 201.25h5M369.96 209.69V213.24M367.46 209.69h5M367.46 213.24h5M375.1 221.9V224.4M372.6 221.9h5" fill="none" stroke="#000000" stroke-width="0.85"/>
<path d="M157.65 188.58l2.5 -4.4h-5zM166.07 159.26l2.5 -4.4h-5zM173.82 137.83l2.5 -4.4h-5zM181.02 124.37l2.5 -4.4h-5zM187.8 113.51l2.5 -4.4h-5zM194.2 106.05l2.5 -4.4h-5zM206.11 96.04l2.5 -4.4h-5zM217.07 91.07l2.5 -4.4h-5zM227.26 88.37l2.5 -4.4h-5zM236.84 86.5l2.5 -4.4h-5zM245.89 85.56l2.5 -4.4h-5zM254.51 86.62l2.5 -4.4h-5zM262.74 88.23l2.5 -4.4h-5zM270.63 90.5l2.5 -4.4h-5zM278.23 93.13l2.5 -4.4h-5zM285.56 96.44l2.5 -4.4h-5zM292.65 100.07l2.5 -4.4h-5zM299.52 104.7l2.5 -4.4h-5zM306.19 110.03l2.5 -4.4h-5zM312.68 116.23l2.5 -4.4h-5zM319 123.22l2.5 -4.4h-5zM325.16 130.83l2.5 -4.4h-5zM331.18 139.26l2.5 -4.4h-5zM337.07 148.58l2.5 -4.4h-5zM342.82 159.09l2.5 -4.4h-5zM348.46 169.39l2.5 -4.4h-5zM353.99 179.73l2.5 -4.4h-5zM359.41 190.45l2.5 -4.4h-5zM364.73 202.34l2.5 -4.4h-5zM369.96 214.37l2.5 -4.4h-5zM375.1 226.54l2.5 -4.4h-5z" fill="#000000" fill-opacity="0.55" stroke="#000000" stroke-width="0.9"/>

</g>
<path d="M69.4 16.2H381.4V224.4H69.4ZM69.4 224.4v-4.5M69.4 16.2v4.5M131.8 224.4v-4.5M131.8 16.2v4.5M194.2 224.4v-4.5M194.2 16.2v4.5M256.6 224.4v-4.5M256.6 16.2v4.5M319 224.4v-4.5M319 16.2v4.5M381.4 224.4v-4.5M381.4 16.2v4.5M69.4 224.4h4.5M381.4 224.4h-4.5M69.4 182.76h4.5M381.4 182.76h-4.5M69.4 141.12h4.5M381.4 141.12h-4.5M69.4 99.48h4.5M381.4 99.48h-4.5M69.4 57.84h4.5M381.4 57.84h-4.5M69.4 16.2h4.5M381.4 16.2h-4.5" fill="none" stroke="#000" stroke-width="1"/>
<g class="t" fill="#000">
<text x="71.4" y="243.2" text-anchor="middle">0</text>
<text x="133.8" y="243.2" text-anchor="middle">0.1</text>
<text x="196.2" y="243.2" text-anchor="middle">0.2</text>
<text x="258.6" y="243.2" text-anchor="middle">0.3</text>
<text x="321" y="243.2" text-anchor="middle">0.4</text>
<text x="383.4" y="243.2" text-anchor="middle">0.5</text>
<text x="60.6" y="229.2" text-anchor="end">4.8</text>
<text x="60.6" y="187.56" text-anchor="end">5</text>
<text x="60.6" y="145.92" text-anchor="end">5.2</text>
<text x="60.6" y="104.28" text-anchor="end">5.4</text>
<text x="60.6" y="62.64" text-anchor="end">5.6</text>
<text x="60.6" y="21" text-anchor="end">5.8</text>
<text x="317.2" y="32.4" text-anchor="end">Nt=20</text>
<text x="317.2" y="46.52" text-anchor="end">Nt=16</text>
<text x="317.2" y="60.64" text-anchor="end">Nt=14</text>
<text x="317.2" y="74.76" text-anchor="end">Nt=12</text>
<text x="317.2" y="88.88" text-anchor="end">10</text>
<text x="202.9" y="265.8">(8t)<tspan class="s" dy="-6.7">1/2</tspan><tspan dy="6.7">T</tspan></text>
<text transform="translate(18.8 146.9) rotate(-90)">(e+p)/T<tspan class="s" dx="1.2" dy="-6.7">4</tspan></text>
</g>
<g stroke-linecap="butt">
<path d="M325.7 27.9H364.8M325.7 25.4v5M364.8 25.4v5" fill="none" stroke="#ff0000" stroke-width="0.8"/>
<path d="M342.8 27.9a2.4 2.4 0 1 0 4.8 0a2.4 2.4 0 1 0 -4.8 0z" fill="none" stroke="#ff0000" stroke-width="0.9"/>
<path d="M325.7 42.02H364.8M325.7 39.52v5M364.8 39.52v5" fill="none" stroke="#0000ff" stroke-width="0.8"/>
<path d="M342.9 42.02a2.3 2.3 0 1 0 4.6 0a2.3 2.3 0 1 0 -4.6 0z" fill="none" stroke="#0000ff" stroke-width="0.9"/>
<path d="M325.7 56.14H364.8M325.7 53.64v5M364.8 53.64v5" fill="none" stroke="#ff00ff" stroke-width="0.8"/>
<path d="M342.8 53.74h4.8v4.8h-4.8z" fill="none" stroke="#ff00ff" stroke-width="0.9"/>
<path d="M325.7 70.26H364.8M325.7 67.76v5M364.8 67.76v5" fill="none" stroke="#006400" stroke-width="0.8"/>
<path d="M345.2 67.36l2.5 4.2h-5z" fill="#006400" fill-opacity="0.3" stroke="#006400" stroke-width="0.9"/>
<path d="M325.7 84.38H364.8M325.7 81.88v5M364.8 81.88v5" fill="none" stroke="#000000" stroke-width="0.8"/>
<path d="M345.2 87.28l2.5 -4.4h-5z" fill="#000000" fill-opacity="0.55" stroke="#000000" stroke-width="0.9"/>
</g>
</svg>
</body></html>
